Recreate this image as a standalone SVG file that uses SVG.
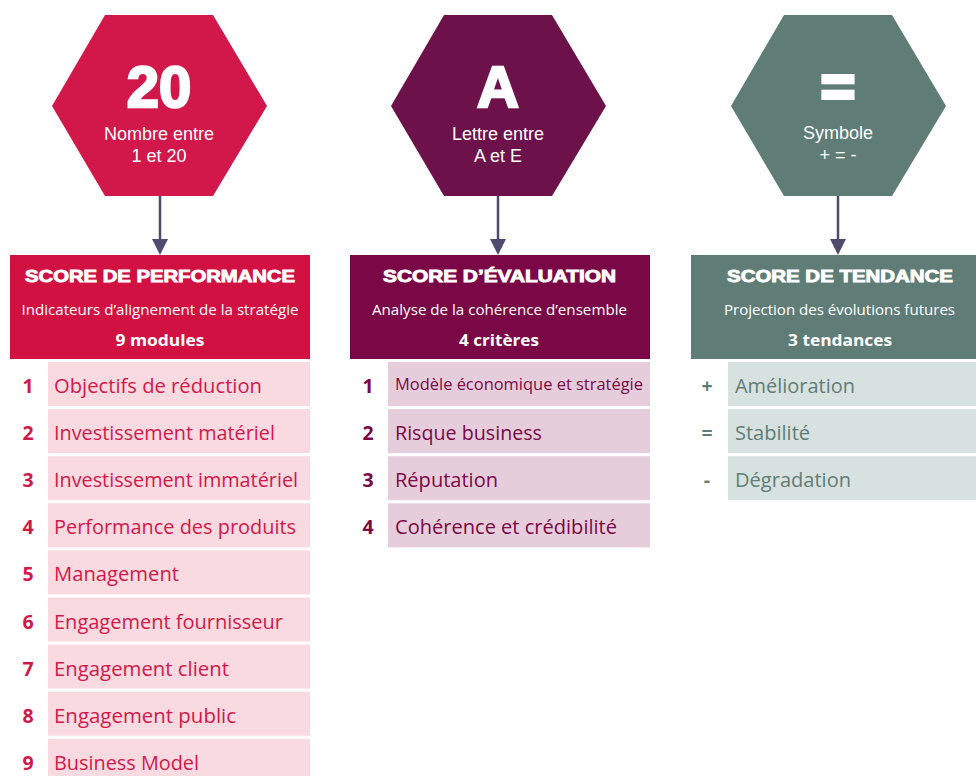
<svg xmlns="http://www.w3.org/2000/svg" width="976" height="776" viewBox="0 0 976 776">
<defs>
<style>
.hx1{fill:#D2184A}.hx2{fill:#6D114A}.hx3{fill:#5F7D76}
.hd1{fill:#D01142}.hd2{fill:#7B0846}.hd3{fill:#5F7D76}
.it1{fill:#FADAE1}.it2{fill:#E6CDDB}.it3{fill:#D7E1DF}
.big{font-family:"Liberation Sans",Arial,sans-serif;font-weight:bold;font-size:58px;fill:#fff;stroke:#fff;stroke-width:2.5;text-anchor:middle}
.hxt{font-family:"Liberation Sans",Arial,sans-serif;font-size:18px;fill:#fff;text-anchor:middle}
.ttl{font-family:"Liberation Sans",Arial,sans-serif;font-weight:bold;font-size:17px;fill:#fff;stroke:#fff;stroke-width:0.9;text-anchor:middle}
.sub{font-family:"Open Sans","Noto Sans",sans-serif;font-size:14px;fill:#fff;text-anchor:middle}
.cnt{font-family:"Open Sans","Noto Sans",sans-serif;font-weight:bold;font-size:16px;fill:#fff;text-anchor:middle}
.lbl{font-family:"Open Sans","Noto Sans",sans-serif;font-size:20px}
.num{font-family:"Open Sans","Noto Sans",sans-serif;font-weight:bold;font-size:19.5px;text-anchor:middle}
.c1{fill:#D2184A}.c2{fill:#7B0846}.c3{fill:#5F7D76}
.arr{stroke:#4F4A6E;stroke-width:2.5;fill:none}
.ah{fill:#4F4A6E}
</style>
</defs>
<rect width="976" height="776" fill="#fff"/>

<g id="connectors">
<line class="arr" x1="160" y1="196" x2="160" y2="241"/>
<polygon class="ah" points="152,239 168,239 160,255"/>
<line class="arr" x1="498" y1="196" x2="498" y2="241"/>
<polygon class="ah" points="490,239 506,239 498,255"/>
<line class="arr" x1="838" y1="196" x2="838" y2="241"/>
<polygon class="ah" points="830,239 846,239 838,255"/>
</g>

<g id="hex-performance">
<polygon class="hx1" points="105,15 213,15 267,106 213,196 105,196 52,106"/>
<text class="big" x="159" y="107">20</text>
<text class="hxt" x="159" y="140">Nombre entre</text>
<text class="hxt" x="159" y="162">1 et 20</text>
</g>
<g id="hex-evaluation">
<polygon class="hx2" points="444,15 552,15 606,106 552,196 444,196 391,106"/>
<text class="big" x="498" y="107">A</text>
<text class="hxt" x="498" y="140">Lettre entre</text>
<text class="hxt" x="498" y="162">A et E</text>
</g>
<g id="hex-tendance">
<polygon class="hx3" points="784,15 892,15 946,106 892,196 784,196 731,106"/>
<text class="big" x="838" y="106" style="stroke-width:4">=</text>
<text class="hxt" x="838" y="139">Symbole</text>
<text class="hxt" x="838" y="161">+ = -</text>
</g>

<g id="header-performance">
<rect class="hd1" x="10" y="255" width="300" height="104"/>
<text class="ttl" x="160" y="282" textLength="270" lengthAdjust="spacingAndGlyphs">SCORE DE PERFORMANCE</text>
<text class="sub" x="160" y="315" textLength="277" lengthAdjust="spacingAndGlyphs">Indicateurs d’alignement de la stratégie</text>
<text class="cnt" x="160" y="346" textLength="89" lengthAdjust="spacingAndGlyphs">9 modules</text>
</g>
<g id="header-evaluation">
<rect class="hd2" x="350" y="255" width="300" height="104"/>
<text class="ttl" x="499.5" y="282" textLength="233" lengthAdjust="spacingAndGlyphs">SCORE D’ÉVALUATION</text>
<text class="sub" x="499.5" y="315" textLength="255" lengthAdjust="spacingAndGlyphs">Analyse de la cohérence d’ensemble</text>
<text class="cnt" x="499" y="346" textLength="80" lengthAdjust="spacingAndGlyphs">4 critères</text>
</g>
<g id="header-tendance">
<rect class="hd3" x="691" y="255" width="285" height="104"/>
<text class="ttl" x="840" y="282" textLength="226" lengthAdjust="spacingAndGlyphs">SCORE DE TENDANCE</text>
<text class="sub" x="839.5" y="315" textLength="231" lengthAdjust="spacingAndGlyphs">Projection des évolutions futures</text>
<text class="cnt" x="840" y="346" textLength="104" lengthAdjust="spacingAndGlyphs">3 tendances</text>
</g>

<g id="item-p1"><rect class="it1" x="48" y="362" width="262" height="44"/><text class="num c1" x="28" y="393">1</text><text class="lbl c1" x="54" y="393" textLength="208" lengthAdjust="spacingAndGlyphs">Objectifs de réduction</text></g>
<g id="item-p2"><rect class="it1" x="48" y="409.1" width="262" height="44"/><text class="num c1" x="28" y="440.1">2</text><text class="lbl c1" x="54" y="440.1" textLength="221" lengthAdjust="spacingAndGlyphs">Investissement matériel</text></g>
<g id="item-p3"><rect class="it1" x="48" y="456.2" width="262" height="44"/><text class="num c1" x="28" y="487.2">3</text><text class="lbl c1" x="54" y="487.2" textLength="244" lengthAdjust="spacingAndGlyphs">Investissement immatériel</text></g>
<g id="item-p4"><rect class="it1" x="48" y="503.3" width="262" height="44"/><text class="num c1" x="28" y="534.3">4</text><text class="lbl c1" x="54" y="534.3" textLength="242" lengthAdjust="spacingAndGlyphs">Performance des produits</text></g>
<g id="item-p5"><rect class="it1" x="48" y="550.4" width="262" height="44"/><text class="num c1" x="28" y="581.4">5</text><text class="lbl c1" x="54" y="581.4" textLength="125" lengthAdjust="spacingAndGlyphs">Management</text></g>
<g id="item-p6"><rect class="it1" x="48" y="597.5" width="262" height="44"/><text class="num c1" x="28" y="628.5">6</text><text class="lbl c1" x="54" y="628.5" textLength="229" lengthAdjust="spacingAndGlyphs">Engagement fournisseur</text></g>
<g id="item-p7"><rect class="it1" x="48" y="644.6" width="262" height="44"/><text class="num c1" x="28" y="675.6">7</text><text class="lbl c1" x="54" y="675.6" textLength="175" lengthAdjust="spacingAndGlyphs">Engagement client</text></g>
<g id="item-p8"><rect class="it1" x="48" y="691.7" width="262" height="44"/><text class="num c1" x="28" y="722.7">8</text><text class="lbl c1" x="54" y="722.7" textLength="182" lengthAdjust="spacingAndGlyphs">Engagement public</text></g>
<g id="item-p9"><rect class="it1" x="48" y="738.8" width="262" height="44"/><text class="num c1" x="28" y="769.8">9</text><text class="lbl c1" x="54" y="769.8" textLength="145" lengthAdjust="spacingAndGlyphs">Business Model</text></g>

<g id="item-e1"><rect class="it2" x="388" y="362" width="262" height="44"/><text class="num c2" x="368" y="393">1</text><text class="lbl c2" x="395" y="389.5" style="font-size:16px" textLength="248" lengthAdjust="spacingAndGlyphs">Modèle économique et stratégie</text></g>
<g id="item-e2"><rect class="it2" x="388" y="409.1" width="262" height="44"/><text class="num c2" x="368" y="440.1">2</text><text class="lbl c2" x="395" y="440.1" textLength="147" lengthAdjust="spacingAndGlyphs">Risque business</text></g>
<g id="item-e3"><rect class="it2" x="388" y="456.2" width="262" height="44"/><text class="num c2" x="368" y="487.2">3</text><text class="lbl c2" x="395" y="487.2" textLength="103" lengthAdjust="spacingAndGlyphs">Réputation</text></g>
<g id="item-e4"><rect class="it2" x="388" y="503.3" width="262" height="44"/><text class="num c2" x="368" y="534.3">4</text><text class="lbl c2" x="395" y="534.3" textLength="222" lengthAdjust="spacingAndGlyphs">Cohérence et crédibilité</text></g>

<g id="item-t1"><rect class="it3" x="728" y="362" width="248" height="44"/><text class="num c3" x="707" y="393">+</text><text class="lbl c3" x="735" y="393" textLength="120" lengthAdjust="spacingAndGlyphs">Amélioration</text></g>
<g id="item-t2"><rect class="it3" x="728" y="409.1" width="248" height="44"/><text class="num c3" x="707" y="440.1">=</text><text class="lbl c3" x="735" y="440.1" textLength="75" lengthAdjust="spacingAndGlyphs">Stabilité</text></g>
<g id="item-t3"><rect class="it3" x="728" y="456.2" width="248" height="44"/><text class="num c3" x="707" y="487.2">-</text><text class="lbl c3" x="735" y="487.2" textLength="116" lengthAdjust="spacingAndGlyphs">Dégradation</text></g>
</svg>
